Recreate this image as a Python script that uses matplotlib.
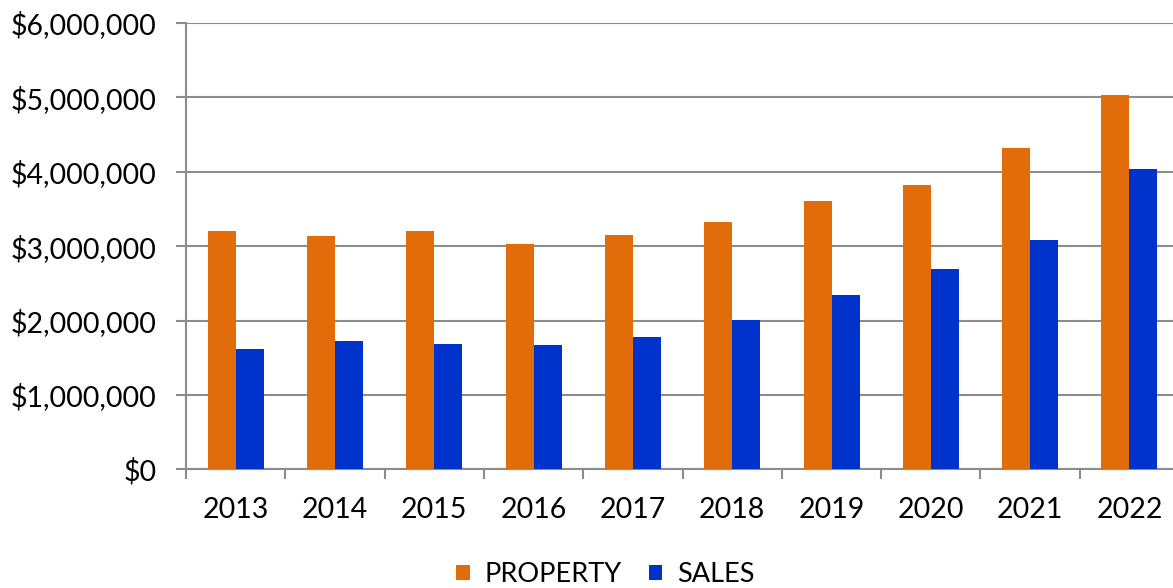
import numpy as np
import matplotlib.pyplot as plt
from matplotlib.ticker import FuncFormatter, FixedLocator

years = ['2013', '2014', '2015', '2016', '2017', '2018', '2019', '2020', '2021', '2022']
property_vals = [3210000, 3130000, 3200000, 3030000, 3150000, 3330000, 3610000, 3820000, 4320000, 5030000]
sales_vals = [1620000, 1730000, 1690000, 1670000, 1780000, 2010000, 2340000, 2690000, 3080000, 4030000]

plt.rcParams['font.family'] = ['Lato', 'DejaVu Sans']

def main():
    fig = plt.figure(figsize=(11.73, 5.88), dpi=100)
    ax = fig.add_axes([0.1586, 0.2017, 0.8466, 0.7594])

    x = np.arange(len(years))
    w = 0.282
    ax.bar(x - w / 2, property_vals, w, color='#E36C0A', label='PROPERTY', zorder=3)
    ax.bar(x + w / 2, sales_vals, w, color='#0033CC', label='SALES', zorder=3)

    ax.set_xlim(-0.5, len(years) - 0.5)
    ax.set_ylim(0, 6000000)
    ax.set_yticks(np.arange(0, 6000001, 1000000))
    ax.yaxis.set_major_formatter(FuncFormatter(lambda v, p: '${:,.0f}'.format(v)))
    ax.set_xticks(x)
    ax.set_xticklabels(years)
    ax.xaxis.set_minor_locator(FixedLocator(np.arange(-0.5, len(years), 1.0)))

    grey = '#8c8c8c'
    ax.grid(axis='y', color=grey, linewidth=1.5, zorder=0)
    for s in ['top', 'right']:
        ax.spines[s].set_visible(False)
    for s in ['left', 'bottom']:
        ax.spines[s].set_color(grey)
        ax.spines[s].set_linewidth(1.5)

    ax.tick_params(axis='y', length=7, width=1.5, color=grey, pad=14, labelsize=20.5)
    ax.tick_params(axis='x', which='major', length=0, pad=20, labelsize=20.5)
    ax.tick_params(axis='x', which='minor', length=7, width=1.5, color=grey)

    fig.legend(loc='lower center', bbox_to_anchor=(0.516, -0.04), ncol=2, frameon=False,
               fontsize=19.5, handlelength=0.5, handleheight=0.5, handletextpad=0.55,
               columnspacing=1.0)

    fig.savefig('out.png', dpi=100)


if __name__ == '__main__':
    main()
